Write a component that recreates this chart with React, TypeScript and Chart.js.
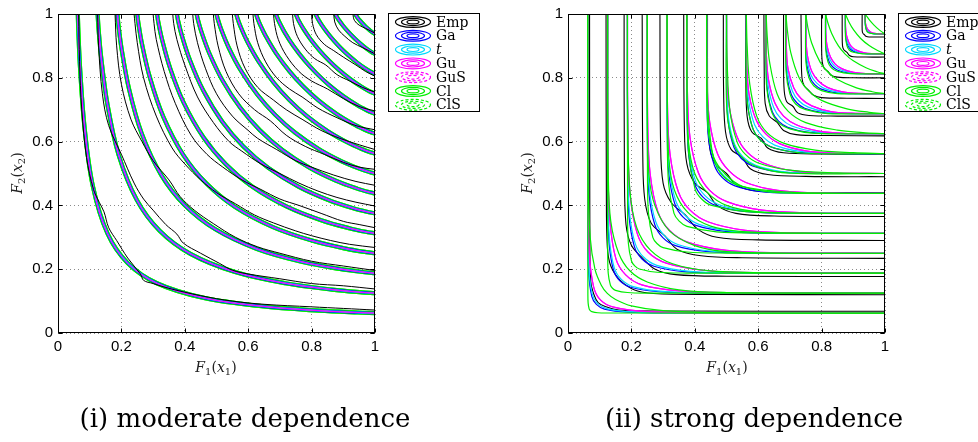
import React, { useEffect, useRef } from "react";
import { Chart, registerables } from "chart.js";
Chart.register(...registerables);

// ---------------- data ----------------
const TICK_VALUES = [0, 0.2, 0.4, 0.6, 0.8, 1];
const TICK_LABELS = ["0", "0.2", "0.4", "0.6", "0.8", "1"];
const LEGEND_LABELS = ["Emp", "Ga", "t", "Gu", "GuS", "Cl", "ClS"];
const CAPTIONS = ["(i) moderate dependence", "(ii) strong dependence"];

// Panel (i): fitted-copula contours (levels 1/16 .. 15/16), lower half from the diagonal to the right edge [x, y, x, y ...]
const MOD_MODEL = [
  [0.2195, 0.2195, 0.312, 0.156, 0.46, 0.11, 0.642, 0.084, 0.824, 0.07, 0.946, 0.0642, 1, 0.0625],
  [0.3206, 0.3206, 0.4176, 0.2483, 0.5587, 0.1912, 0.717, 0.156, 0.8645, 0.1361, 0.959, 0.1275, 1, 0.125],
  [0.4002, 0.4002, 0.4951, 0.3258, 0.6258, 0.264, 0.765, 0.2241, 0.8894, 0.2008, 0.967, 0.1905, 1, 0.1875],
  [0.4685, 0.4685, 0.5587, 0.395, 0.6783, 0.332, 0.8011, 0.2898, 0.9075, 0.2646, 0.9727, 0.2534, 1, 0.25],
  [0.5293, 0.5293, 0.6135, 0.4587, 0.722, 0.3964, 0.8302, 0.3537, 0.9218, 0.3278, 0.977, 0.316, 1, 0.3125],
  [0.5848, 0.5848, 0.6624, 0.5184, 0.7599, 0.4583, 0.8548, 0.4163, 0.9336, 0.3904, 0.9806, 0.3786, 1, 0.375],
  [0.6362, 0.6362, 0.7067, 0.5747, 0.7933, 0.5181, 0.8761, 0.4777, 0.9438, 0.4526, 0.9836, 0.441, 1, 0.4375],
  [0.6845, 0.6845, 0.7474, 0.6285, 0.8236, 0.5762, 0.895, 0.5383, 0.9527, 0.5144, 0.9862, 0.5034, 1, 0.5],
  [0.73, 0.73, 0.7853, 0.6801, 0.8512, 0.6327, 0.912, 0.598, 0.9605, 0.5759, 0.9886, 0.5656, 1, 0.5625],
  [0.7733, 0.7733, 0.8209, 0.7298, 0.8767, 0.688, 0.9276, 0.6571, 0.9676, 0.6372, 0.9906, 0.6279, 1, 0.625],
  [0.8147, 0.8147, 0.8544, 0.778, 0.9004, 0.7422, 0.9418, 0.7155, 0.9741, 0.6982, 0.9925, 0.69, 1, 0.6875],
  [0.8544, 0.8544, 0.8862, 0.8247, 0.9226, 0.7954, 0.955, 0.7733, 0.98, 0.7589, 1, 0.75],
  [0.8926, 0.8926, 0.9165, 0.8701, 0.9435, 0.8478, 0.9673, 0.8307, 0.9856, 0.8195, 1, 0.8125],
  [0.9296, 0.9296, 0.9455, 0.9145, 0.9633, 0.8992, 0.9788, 0.8876, 0.9907, 0.8798, 1, 0.875],
  [0.9653, 0.9653, 0.9733, 0.9577, 0.9821, 0.95, 0.9897, 0.944, 1, 0.9375],
];

// Panel (i): empirical contours, full curves from the top edge to the right edge
const MOD_EMP = [
  [0.065, 1, 0.068, 0.85, 0.075, 0.7, 0.09, 0.55, 0.112, 0.45, 0.13, 0.41, 0.145, 0.38, 0.16, 0.33, 0.185, 0.29, 0.22, 0.235, 0.26, 0.185, 0.27, 0.165, 0.3, 0.155, 0.35, 0.14, 0.45, 0.117, 0.55, 0.1, 0.65, 0.09, 0.8, 0.082, 0.9, 0.077, 1, 0.072],
  [0.125, 1, 0.128, 0.9, 0.14, 0.75, 0.16, 0.65, 0.2, 0.56, 0.24, 0.47, 0.27, 0.42, 0.3, 0.385, 0.34, 0.34, 0.375, 0.31, 0.395, 0.282, 0.45, 0.25, 0.51, 0.218, 0.55, 0.197, 0.6, 0.185, 0.7, 0.17, 0.8, 0.155, 0.9, 0.148, 1, 0.138],
  [0.18, 1, 0.185, 0.9, 0.2, 0.78, 0.23, 0.67, 0.265, 0.6, 0.3, 0.54, 0.35, 0.48, 0.385, 0.428, 0.43, 0.385, 0.49, 0.343, 0.56, 0.3, 0.63, 0.27, 0.7, 0.25, 0.8, 0.225, 0.9, 0.21, 1, 0.196],
  [0.24, 1, 0.243, 0.97, 0.25, 0.91, 0.27, 0.8, 0.31, 0.68, 0.36, 0.58, 0.4, 0.53, 0.45, 0.48, 0.5, 0.44, 0.56, 0.405, 0.62, 0.37, 0.68, 0.345, 0.75, 0.32, 0.8, 0.305, 0.86, 0.29, 0.92, 0.278, 1, 0.268],
  [0.3, 1, 0.303, 0.97, 0.31, 0.92, 0.335, 0.82, 0.37, 0.72, 0.42, 0.62, 0.47, 0.56, 0.52, 0.52, 0.58, 0.48, 0.64, 0.45, 0.7, 0.42, 0.76, 0.4, 0.83, 0.375, 0.9, 0.35, 0.95, 0.34, 1, 0.33],
  [0.362, 1, 0.365, 0.97, 0.375, 0.92, 0.4, 0.84, 0.44, 0.74, 0.49, 0.66, 0.54, 0.6, 0.58, 0.57, 0.64, 0.53, 0.7, 0.5, 0.76, 0.47, 0.82, 0.445, 0.88, 0.425, 0.94, 0.41, 1, 0.398],
  [0.425, 1, 0.428, 0.97, 0.44, 0.91, 0.465, 0.83, 0.5, 0.75, 0.55, 0.68, 0.6, 0.635, 0.63, 0.61, 0.69, 0.575, 0.75, 0.54, 0.8, 0.52, 0.87, 0.495, 0.94, 0.475, 1, 0.463],
  [0.49, 1, 0.493, 0.97, 0.505, 0.9, 0.53, 0.82, 0.57, 0.75, 0.62, 0.7, 0.67, 0.665, 0.72, 0.62, 0.78, 0.585, 0.84, 0.56, 0.9, 0.535, 0.95, 0.52, 1, 0.513],
  [0.55, 1, 0.553, 0.97, 0.565, 0.9, 0.59, 0.83, 0.63, 0.77, 0.68, 0.73, 0.72, 0.7, 0.77, 0.67, 0.83, 0.635, 0.89, 0.61, 0.95, 0.59, 1, 0.575],
  [0.615, 1, 0.618, 0.97, 0.63, 0.91, 0.655, 0.85, 0.69, 0.8, 0.73, 0.765, 0.77, 0.74, 0.82, 0.705, 0.88, 0.675, 0.94, 0.65, 1, 0.637],
  [0.68, 1, 0.683, 0.97, 0.695, 0.92, 0.72, 0.87, 0.76, 0.82, 0.8, 0.79, 0.85, 0.765, 0.9, 0.735, 0.95, 0.71, 1, 0.696],
  [0.74, 1, 0.743, 0.97, 0.755, 0.93, 0.78, 0.89, 0.81, 0.86, 0.845, 0.84, 0.88, 0.81, 0.92, 0.79, 0.96, 0.77, 1, 0.755],
  [0.8, 1, 0.803, 0.97, 0.815, 0.935, 0.84, 0.905, 0.87, 0.885, 0.9, 0.865, 0.94, 0.84, 0.97, 0.82, 1, 0.805],
  [0.87, 1, 0.873, 0.975, 0.885, 0.95, 0.905, 0.93, 0.93, 0.91, 0.96, 0.895, 0.98, 0.885, 1, 0.875],
  [0.93, 1, 0.935, 0.98, 0.95, 0.965, 0.97, 0.955, 0.99, 0.945, 1, 0.94],
];

// Panel (ii): lower halves (diagonal -> right edge) per model
const STR_EMP = [
  [0.095, 0.095, 0.12, 0.082, 0.16, 0.072, 0.3, 0.069, 1, 0.068],
  [0.165, 0.165, 0.21, 0.135, 0.27, 0.124, 0.45, 0.121, 1, 0.12],
  [0.235, 0.235, 0.275, 0.2, 0.34, 0.183, 0.5, 0.178, 1, 0.177],
  [0.305, 0.305, 0.345, 0.262, 0.42, 0.242, 0.55, 0.236, 1, 0.234],
  [0.37, 0.37, 0.41, 0.325, 0.47, 0.3, 0.6, 0.292, 1, 0.29],
  [0.44, 0.44, 0.47, 0.4, 0.53, 0.375, 0.65, 0.367, 1, 0.365],
  [0.5, 0.5, 0.53, 0.465, 0.58, 0.447, 0.7, 0.441, 1, 0.44],
  [0.55, 0.55, 0.575, 0.515, 0.63, 0.497, 0.75, 0.491, 1, 0.49],
  [0.61, 0.61, 0.63, 0.58, 0.68, 0.565, 0.8, 0.561, 1, 0.56],
  [0.66, 0.66, 0.68, 0.635, 0.72, 0.622, 0.82, 0.619, 1, 0.618],
  [0.71, 0.71, 0.725, 0.69, 0.76, 0.682, 0.85, 0.68, 1, 0.68],
  [0.76, 0.76, 0.775, 0.745, 0.8, 0.738, 0.88, 0.736, 1, 0.735],
  [0.82, 0.82, 0.83, 0.808, 0.85, 0.802, 0.9, 0.8, 1, 0.8],
  [0.88, 0.88, 0.888, 0.87, 0.9, 0.866, 0.94, 0.865, 1, 0.865],
  [0.935, 0.935, 0.94, 0.93, 0.95, 0.928, 1, 0.928],
];
const STR_GA = [
  [0.0895, 0.0895, 0.115, 0.075, 0.1895, 0.0653, 0.3299, 0.0628, 1, 0.0625],
  [0.1636, 0.1636, 0.1975, 0.1434, 0.2872, 0.1293, 0.4353, 0.1255, 1, 0.125],
  [0.2328, 0.2328, 0.271, 0.2094, 0.3663, 0.1926, 0.5119, 0.1882, 1, 0.1875],
  [0.2991, 0.2991, 0.3392, 0.2739, 0.4353, 0.2556, 0.5744, 0.2507, 1, 0.25],
  [0.3632, 0.3632, 0.4036, 0.3374, 0.4976, 0.3184, 0.628, 0.3132, 1, 0.3125],
  [0.4258, 0.4258, 0.4653, 0.4, 0.5552, 0.381, 0.6755, 0.3758, 1, 0.375],
  [0.4869, 0.4869, 0.5248, 0.462, 0.609, 0.4433, 0.7184, 0.4387, 1, 0.4375],
  [0.5469, 0.5469, 0.5824, 0.5234, 0.6598, 0.5056, 0.7579, 0.5007, 1, 0.5],
  [0.606, 0.606, 0.6384, 0.5842, 0.708, 0.5677, 0.7944, 0.5634, 1, 0.5625],
  [0.6642, 0.6642, 0.6931, 0.6447, 0.7543, 0.6297, 0.8286, 0.6256, 1, 0.625],
  [0.7217, 0.7217, 0.7466, 0.7047, 0.7987, 0.6917, 0.8608, 0.6881, 1, 0.6875],
  [0.7784, 0.7784, 0.799, 0.7644, 0.8415, 0.7535, 0.8913, 0.7505, 1, 0.75],
  [0.8347, 0.8347, 0.8505, 0.8237, 0.8829, 0.8152, 0.9203, 0.8128, 1, 0.8125],
  [0.8903, 0.8903, 0.9011, 0.8828, 0.923, 0.8769, 0.948, 0.8752, 1, 0.875],
  [0.9454, 0.9454, 0.9509, 0.9415, 0.962, 0.9385, 0.9745, 0.9376, 1, 0.9375],
];
const STR_T = [
  [0.0929, 0.0929, 0.1216, 0.0766, 0.2003, 0.0661, 0.3487, 0.063, 1, 0.0625],
  [0.1682, 0.1682, 0.2059, 0.1456, 0.2994, 0.1303, 0.4538, 0.1258, 1, 0.125],
  [0.2381, 0.2381, 0.2802, 0.2121, 0.3787, 0.1939, 0.5293, 0.1885, 1, 0.1875],
  [0.3047, 0.3047, 0.3487, 0.2768, 0.4475, 0.257, 0.5905, 0.251, 1, 0.25],
  [0.369, 0.369, 0.4131, 0.3404, 0.5093, 0.3199, 0.6427, 0.3135, 1, 0.3125],
  [0.4314, 0.4314, 0.4745, 0.403, 0.5662, 0.3824, 0.6889, 0.376, 1, 0.375],
  [0.4923, 0.4923, 0.5335, 0.4649, 0.6191, 0.4448, 0.7304, 0.439, 1, 0.4375],
  [0.552, 0.552, 0.5905, 0.5262, 0.669, 0.507, 0.7684, 0.501, 1, 0.5],
  [0.615, 0.615, 0.652, 0.589, 0.728, 0.57, 0.82, 0.5635, 1, 0.5625],
  [0.672, 0.672, 0.706, 0.649, 0.772, 0.632, 0.85, 0.6257, 1, 0.625],
  [0.728, 0.728, 0.758, 0.708, 0.814, 0.693, 0.877, 0.6883, 1, 0.6875],
  [0.784, 0.784, 0.808, 0.767, 0.854, 0.7545, 0.904, 0.7507, 1, 0.75],
  [0.839, 0.839, 0.858, 0.826, 0.892, 0.816, 0.93, 0.813, 1, 0.8125],
  [0.893, 0.893, 0.906, 0.884, 0.929, 0.8775, 0.955, 0.8753, 1, 0.875],
  [0.947, 0.947, 0.953, 0.9425, 0.965, 0.9386, 0.978, 0.9377, 1, 0.9375],
];
const STR_GU = [
  [0.103, 0.103, 0.144, 0.081, 0.25, 0.067, 0.435, 0.063, 1, 0.0625],
  [0.182, 0.182, 0.233, 0.151, 0.354, 0.132, 0.536, 0.126, 1, 0.125],
  [0.253, 0.253, 0.31, 0.219, 0.433, 0.196, 0.605, 0.189, 1, 0.1875],
  [0.321, 0.321, 0.379, 0.284, 0.5, 0.259, 0.66, 0.2515, 1, 0.25],
  [0.385, 0.385, 0.443, 0.348, 0.559, 0.322, 0.705, 0.314, 1, 0.3125],
  [0.447, 0.447, 0.503, 0.411, 0.612, 0.385, 0.745, 0.377, 1, 0.375],
  [0.508, 0.508, 0.561, 0.472, 0.661, 0.447, 0.78, 0.439, 1, 0.4375],
  [0.566, 0.566, 0.616, 0.533, 0.707, 0.509, 0.812, 0.5015, 1, 0.5],
  [0.624, 0.624, 0.669, 0.593, 0.75, 0.571, 0.842, 0.564, 1, 0.5625],
  [0.68, 0.68, 0.72, 0.653, 0.791, 0.633, 0.869, 0.626, 1, 0.625],
  [0.735, 0.735, 0.769, 0.712, 0.829, 0.694, 0.894, 0.689, 1, 0.6875],
  [0.79, 0.79, 0.818, 0.77, 0.866, 0.756, 0.917, 0.751, 1, 0.75],
  [0.843, 0.843, 0.865, 0.828, 0.901, 0.817, 0.94, 0.813, 1, 0.8125],
  [0.896, 0.896, 0.911, 0.886, 0.935, 0.878, 0.961, 0.8755, 1, 0.875],
  [0.9485, 0.9485, 0.956, 0.943, 0.968, 0.939, 0.981, 0.9378, 1, 0.9375],
];
const STR_CL = [
  [0.0702, 0.0702, 0.075, 0.0669, 0.0938, 0.0635, 0.125, 0.0627, 1, 0.0625],
  [0.1403, 0.1403, 0.15, 0.1338, 0.1875, 0.1269, 0.25, 0.1253, 1, 0.125],
  [0.2105, 0.2105, 0.225, 0.2006, 0.2813, 0.1904, 0.375, 0.188, 1, 0.1875],
  [0.2806, 0.2806, 0.3, 0.2675, 0.375, 0.2539, 0.5, 0.2507, 1, 0.25],
  [0.3507, 0.3507, 0.375, 0.3344, 0.4688, 0.3173, 0.625, 0.3134, 1, 0.3125],
  [0.4207, 0.4207, 0.45, 0.4011, 0.5625, 0.3806, 0.75, 0.3758, 1, 0.375],
  [0.4905, 0.4905, 0.55, 0.4586, 0.7, 0.4414, 0.85, 0.438, 1, 0.4375],
  [0.5598, 0.5598, 0.6, 0.5331, 0.7, 0.5105, 0.85, 0.5022, 1, 0.5],
  [0.628, 0.628, 0.68, 0.5954, 0.78, 0.5734, 0.9, 0.5652, 1, 0.5625],
  [0.6948, 0.6948, 0.75, 0.6595, 0.85, 0.6359, 0.93, 0.6285, 1, 0.625],
  [0.7589, 0.7589, 0.8, 0.7291, 0.88, 0.7026, 0.95, 0.6919, 1, 0.6875],
  [0.8191, 0.8191, 0.85, 0.7948, 0.91, 0.7684, 0.96, 0.7563, 1, 0.75],
  [0.8744, 0.8744, 0.9, 0.8531, 0.94, 0.8315, 0.975, 0.819, 1, 0.8125],
  [0.9232, 0.9232, 0.95, 0.901, 0.975, 0.8862, 1, 0.875],
  [0.9653, 0.9653, 0.98, 0.9519, 0.993, 0.9421, 1, 0.9375],
];
const STR_CLS = [
  [0.124, 0.124, 0.15, 0.105, 0.2, 0.085, 0.3, 0.07, 0.5, 0.063, 1, 0.0625],
  [0.195, 0.195, 0.25, 0.16, 0.35, 0.135, 0.5, 0.127, 1, 0.125],
  [0.26, 0.26, 0.33, 0.217, 0.45, 0.195, 0.7, 0.188, 1, 0.1875],
  [0.32, 0.32, 0.4, 0.274, 0.5, 0.255, 0.7, 0.25, 1, 0.25],
  [0.378, 0.378, 0.45, 0.335, 0.55, 0.318, 0.75, 0.313, 1, 0.3125],
  [0.44, 0.44, 0.5, 0.4, 0.6, 0.38, 0.8, 0.375, 1, 0.375],
  [0.497, 0.497, 0.55, 0.46, 0.65, 0.441, 0.85, 0.4375, 1, 0.4375],
  [0.55, 0.55, 0.6, 0.52, 0.7, 0.501, 1, 0.5],
  [0.6055, 0.6055, 0.65, 0.58, 0.75, 0.5635, 1, 0.5625],
  [0.662, 0.662, 0.7, 0.64, 0.78, 0.626, 1, 0.625],
  [0.718, 0.718, 0.75, 0.7, 0.82, 0.688, 1, 0.6875],
  [0.775, 0.775, 0.8, 0.76, 0.85, 0.7505, 1, 0.75],
  [0.831, 0.831, 0.85, 0.82, 0.89, 0.813, 1, 0.8125],
  [0.887, 0.887, 0.9, 0.88, 0.93, 0.8753, 1, 0.875],
  [0.944, 0.944, 0.95, 0.941, 0.97, 0.9376, 1, 0.9375],
];

// ---------------- styling ----------------
const COLORS: Record<string, string> = {
  Emp: "#000000",
  Ga: "#0000ff",
  t: "#00d8ff",
  Gu: "#ff00ff",
  GuS: "#ff00ff",
  Cl: "#00ee00",
  ClS: "#00ee00",
};
const LEGEND_DASHED: Record<string, boolean> = { GuS: true, ClS: true };

type Pt = { x: number; y: number };
const mirrorHalf = (h: number[]): Pt[] => {
  const pts: Pt[] = [];
  for (let i = h.length - 2; i >= 2; i -= 2) pts.push({ x: h[i + 1], y: h[i] });
  for (let i = 0; i < h.length; i += 2) pts.push({ x: h[i], y: h[i + 1] });
  return pts;
};
const flatToPts = (f: number[]): Pt[] => {
  const pts: Pt[] = [];
  for (let i = 0; i < f.length; i += 2) pts.push({ x: f[i], y: f[i + 1] });
  return pts;
};

type Series = { key: string; curves: Pt[][]; width: number };

// listed bottom (drawn first) -> top (drawn last)
const LEFT_SERIES: Series[] = [
  { key: "Cl", curves: MOD_MODEL.map(mirrorHalf), width: 4.2 },
  { key: "ClS", curves: MOD_MODEL.map(mirrorHalf), width: 4.2 },
  { key: "Ga", curves: MOD_MODEL.map(mirrorHalf), width: 2.5 },
  { key: "t", curves: MOD_MODEL.map(mirrorHalf), width: 1.8 },
  { key: "Gu", curves: MOD_MODEL.map(mirrorHalf), width: 0.9 },
  { key: "GuS", curves: MOD_MODEL.map(mirrorHalf), width: 0.9 },
  { key: "Emp", curves: MOD_EMP.map(flatToPts), width: 1.0 },
];
const RIGHT_SERIES: Series[] = [
  { key: "Emp", curves: STR_EMP.map(mirrorHalf), width: 1.1 },
  { key: "Ga", curves: STR_GA.map(mirrorHalf), width: 1.2 },
  { key: "t", curves: STR_T.map(mirrorHalf), width: 1.2 },
  { key: "Gu", curves: STR_GU.map(mirrorHalf), width: 1.2 },
  { key: "GuS", curves: STR_GU.map(mirrorHalf), width: 1.2 },
  { key: "ClS", curves: STR_CLS.map(mirrorHalf), width: 1.2 },
  { key: "Cl", curves: STR_CL.map(mirrorHalf), width: 1.2 },
];

const framePlugin = {
  id: "frameTicks",
  afterDatasetsDraw(chart: any) {
    const { ctx, chartArea: a } = chart;
    const xs = chart.scales.x;
    const ys = chart.scales.y;
    ctx.save();
    ctx.setLineDash([]);
    ctx.strokeStyle = "#000";
    ctx.lineWidth = 1;
    const L = Math.round(a.left) + 0.5;
    const R = Math.round(a.right) - 0.5;
    const T = Math.round(a.top) + 0.5;
    const B = Math.round(a.bottom) - 0.5;
    ctx.strokeRect(L, T, R - L, B - T);
    ctx.beginPath();
    TICK_VALUES.forEach((v) => {
      const px = Math.round(xs.getPixelForValue(v)) + 0.5;
      ctx.moveTo(px, B);
      ctx.lineTo(px, B - 4);
      ctx.moveTo(px, T);
      ctx.lineTo(px, T + 4);
      const py = Math.round(ys.getPixelForValue(v)) + 0.5;
      ctx.moveTo(L, py);
      ctx.lineTo(L + 4, py);
      ctx.moveTo(R, py);
      ctx.lineTo(R - 4, py);
    });
    ctx.stroke();
    ctx.restore();
  },
};

const legendPlugin = {
  id: "contourLegend",
  afterDraw(chart: any, _args: any, opts: any) {
    const { ctx } = chart;
    const { x, y, w, h } = opts;
    ctx.save();
    ctx.fillStyle = "#fff";
    ctx.fillRect(x, y, w, h);
    ctx.strokeStyle = "#000";
    ctx.lineWidth = 1;
    ctx.strokeRect(x + 0.5, y + 0.5, w, h);
    const rowH = 13.8;
    LEGEND_LABELS.forEach((lab, i) => {
      const cy = y + 9 + i * rowH;
      const cx = x + 25;
      ctx.strokeStyle = COLORS[lab];
      ctx.lineWidth = 1.2;
      ctx.setLineDash(LEGEND_DASHED[lab] ? [3, 2] : []);
      [
        [17.5, 5.4],
        [11.5, 3.6],
        [6, 1.9],
      ].forEach(([rx, ry]) => {
        ctx.beginPath();
        ctx.ellipse(cx, cy, rx, ry, 0, 0, Math.PI * 2);
        ctx.stroke();
      });
      ctx.setLineDash([]);
      ctx.fillStyle = "#000";
      ctx.font = (lab === "t" ? "italic " : "") + "14px 'DejaVu Serif'";
      ctx.textBaseline = "middle";
      ctx.textAlign = "left";
      ctx.fillText(lab, x + 48, cy + 1);
    });
    ctx.restore();
  },
};

function Panel(props: { left: number; yAxisWidth: number; series: Series[]; legendX: number }) {
  const ref = useRef<HTMLCanvasElement | null>(null);
  useEffect(() => {
    if (!ref.current) return;
    // Chart.js paints dataset 0 last (on top), so push the top-most series first
    const datasets: any[] = [];
    [...props.series].reverse().forEach((s) =>
      s.curves.forEach((c) =>
        datasets.push({
          data: c,
          borderColor: COLORS[s.key],
          borderWidth: s.width,
          pointRadius: 0,
          pointHoverRadius: 0,
          fill: false,
          tension: 0.35,
        })
      )
    );
    const tickFont = { family: "'Liberation Sans', Arial, sans-serif", size: 15 };
    const chart = new Chart(ref.current, {
      type: "line",
      data: { datasets },
      plugins: [framePlugin, legendPlugin],
      options: {
        responsive: false,
        animation: false,
        events: [],
        layout: { padding: { left: 0, top: 13, right: 489 - props.yAxisWidth - 317, bottom: 0 } },
        plugins: {
          legend: { display: false },
          tooltip: { enabled: false },
          contourLegend: { x: props.legendX, y: 13, w: 91, h: 98 },
        } as any,
        scales: {
          x: {
            type: "linear",
            min: 0,
            max: 1,
            afterBuildTicks: (s: any) => {
              s.ticks = TICK_VALUES.map((v) => ({ value: v }));
            },
            afterFit: (s: any) => {
              s.height = 109;
            },
            ticks: {
              callback: (_v: any, i: number) => TICK_LABELS[i],
              font: tickFont,
              color: "#000",
              padding: 5,
              autoSkip: false,
              maxRotation: 0,
            },
            grid: { color: "#8a8a8a", drawTicks: false, lineWidth: 1 },
            border: { display: false, dash: [1, 3] },
          },
          y: {
            type: "linear",
            min: 0,
            max: 1,
            afterBuildTicks: (s: any) => {
              s.ticks = TICK_VALUES.map((v) => ({ value: v }));
            },
            afterFit: (s: any) => {
              s.width = props.yAxisWidth;
            },
            ticks: {
              callback: (_v: any, i: number) => TICK_LABELS[i],
              font: tickFont,
              color: "#000",
              padding: 5,
              autoSkip: false,
            },
            grid: { color: "#8a8a8a", drawTicks: false, lineWidth: 1 },
            border: { display: false, dash: [1, 3] },
          },
        },
      } as any,
    });
    return () => chart.destroy();
  }, []);
  return (
    <canvas
      ref={ref}
      width={489}
      height={442}
      style={{ position: "absolute", left: props.left, top: 0, width: 489, height: 442 }}
    />
  );
}

const sub: React.CSSProperties = { fontSize: 10, fontStyle: "normal", position: "relative", top: 3 };
function AxisTitle(props: { n: number }) {
  return (
    <span>
      <i>F</i>
      <span style={sub}>{props.n}</span>(<i>x</i>
      <span style={sub}>{props.n}</span>)
    </span>
  );
}

const titleStyle: React.CSSProperties = {
  position: "absolute",
  width: 100,
  height: 18,
  lineHeight: "18px",
  textAlign: "center",
  fontFamily: "'DejaVu Serif', serif",
  fontSize: 14,
  color: "#222",
  whiteSpace: "nowrap",
};
const captionStyle: React.CSSProperties = {
  position: "absolute",
  top: 402,
  width: 420,
  height: 32,
  lineHeight: "32px",
  textAlign: "center",
  fontFamily: "'DejaVu Serif', serif",
  fontSize: 26,
  color: "#000",
  whiteSpace: "nowrap",
};

export default function App() {
  return (
    <div
      style={{
        position: "fixed",
        left: 0,
        top: 0,
        width: 978,
        height: 442,
        overflow: "hidden",
        background: "#fff",
      }}
    >
      <Panel left={0} yAxisWidth={58} series={LEFT_SERIES} legendX={388} />
      <Panel left={489} yAxisWidth={79} series={RIGHT_SERIES} legendX={409} />
      <div style={{ ...titleStyle, left: 216 - 50, top: 358 }}>
        <AxisTitle n={1} />
      </div>
      <div style={{ ...titleStyle, left: 727 - 50, top: 358 }}>
        <AxisTitle n={1} />
      </div>
      <div style={{ ...titleStyle, left: 17 - 50, top: 173 - 9, transform: "rotate(-90deg)" }}>
        <AxisTitle n={2} />
      </div>
      <div style={{ ...titleStyle, left: 527 - 50, top: 173 - 9, transform: "rotate(-90deg)" }}>
        <AxisTitle n={2} />
      </div>
      <div style={{ ...captionStyle, left: 245 - 210 }}>{CAPTIONS[0]}</div>
      <div style={{ ...captionStyle, left: 754 - 210 }}>{CAPTIONS[1]}</div>
    </div>
  );
}
